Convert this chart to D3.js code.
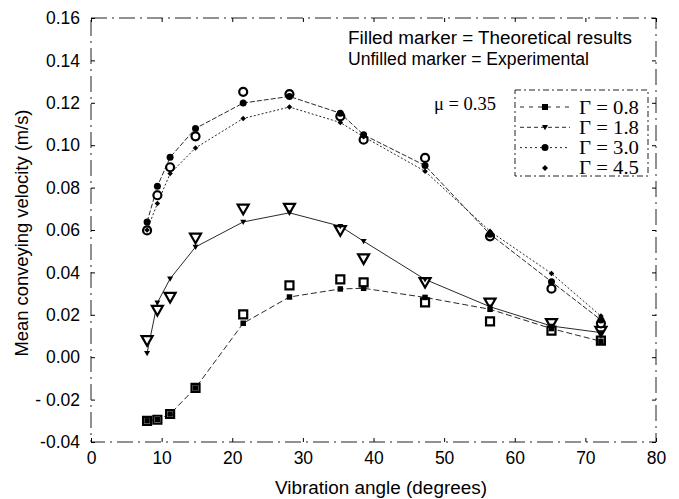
<!DOCTYPE html>
<html>
<head>
<meta charset="utf-8">
<script src="https://cdn.jsdelivr.net/npm/d3@7"></script>
<style>
  body { margin: 0; background: #fff; }
  svg { display: block; }
</style>
</head>
<body>
<div id="chart"></div>
<script>
// vibration angles (degrees) for each measurement
const angles = [7.94, 9.4, 11.2, 14.8, 21.55, 28.1, 35.3, 38.6, 47.3, 56.5, 65.2, 72.2];

// theoretical (filled) results
const theo08 = [-0.0300, -0.0295, -0.0268, -0.0145, 0.0160, 0.0284, 0.0322, 0.0325, 0.0282, 0.0226, 0.0135, 0.0075];
const theo18 = [0.0019, 0.0257, 0.0370, 0.0520, 0.0638, 0.0681, 0.0618, 0.0547, 0.0367, 0.0238, 0.0147, 0.0116];
const theo30 = [0.0638, 0.0806, 0.0943, 0.1079, 0.1199, 0.1230, 0.1151, 0.1049, 0.0904, 0.0580, 0.0356, 0.0176];
const theo45 = [0.0600, 0.0725, 0.0866, 0.0987, 0.1126, 0.1180, 0.1107, 0.1040, 0.0877, 0.0594, 0.0395, 0.0194];

// experimental (unfilled) results
const exp08 = [-0.0300, -0.0295, -0.0268, -0.0145, 0.0202, 0.0339, 0.0367, 0.0353, 0.0259, 0.0169, 0.0125, 0.0078];
const exp18 = [0.0080, 0.0223, 0.0284, 0.0563, 0.0700, 0.0704, 0.0599, 0.0466, 0.0354, 0.0257, 0.0160, 0.0124];
const exp30 = [0.0598, 0.0764, 0.0896, 0.1042, 0.1252, 0.1241, 0.1136, 0.1026, 0.0940, 0.0570, 0.0323, 0.0160];

const xTicks = [0, 10, 20, 30, 40, 50, 60, 70, 80];
const yTicks = [-0.04, -0.02, 0, 0.02, 0.04, 0.06, 0.08, 0.10, 0.12, 0.14, 0.16];
const yTickLabels = ["-0.04", "- 0.02", "0.00", "0.02", "0.04", "0.06", "0.08", "0.10", "0.12", "0.14", "0.16"];

const legendLabels = ["\u0393 = 0.8", "\u0393 = 1.8", "\u0393 = 3.0", "\u0393 = 4.5"];

const W = 679, H = 499;
const margin = { top: 18, right: 23, bottom: 57, left: 91 };

const svg = d3.select("#chart").append("svg").attr("width", W).attr("height", H);

const x = d3.scaleLinear().domain([0, 80]).range([margin.left, W - margin.right]);
const y = d3.scaleLinear().domain([-0.04, 0.16]).range([H - margin.bottom, margin.top]);

const sans = "Liberation Sans, Arial, sans-serif";
const serif = "Liberation Serif, Times New Roman, serif";

// plot frame (rough dash-dot like the scanned original)
svg.append("rect")
  .attr("x", x(0)).attr("y", y(0.16))
  .attr("width", x(80) - x(0)).attr("height", y(-0.04) - y(0.16))
  .attr("fill", "none").attr("stroke", "#222").attr("stroke-width", 1)
  .attr("stroke-dasharray", "16,5,2,5");

// axes with inward ticks
const xAxis = d3.axisBottom(x).tickValues(xTicks).tickSizeInner(-4).tickSizeOuter(0).tickPadding(10);
const gx = svg.append("g").attr("transform", `translate(0,${y(-0.04)})`).call(xAxis);
gx.select(".domain").remove();
gx.selectAll("text").style("font-family", sans).style("font-size", "17.5px").attr("fill", "#000");

const gxTop = svg.append("g").attr("transform", `translate(0,${y(0.16)})`)
  .call(d3.axisTop(x).tickValues(xTicks).tickSizeInner(-4).tickSizeOuter(0).tickFormat(""));
gxTop.select(".domain").remove();

const yAxis = d3.axisLeft(y).tickValues(yTicks).tickSizeInner(-4).tickSizeOuter(0).tickPadding(11)
  .tickFormat((d, i) => yTickLabels[i]);
const gy = svg.append("g").attr("transform", `translate(${x(0)},0)`).call(yAxis);
gy.select(".domain").remove();
gy.selectAll("text").style("font-family", sans).style("font-size", "17.5px").attr("fill", "#000");

const gyR = svg.append("g").attr("transform", `translate(${x(80)},0)`)
  .call(d3.axisRight(y).tickValues(yTicks).tickSizeInner(-4).tickSizeOuter(0).tickFormat(""));
gyR.select(".domain").remove();

// axis labels
svg.append("text")
  .attr("x", 381).attr("y", H - 5)
  .attr("text-anchor", "middle")
  .attr("textLength", 212).attr("lengthAdjust", "spacingAndGlyphs")
  .style("font-family", sans).style("font-size", "17.5px")
  .text("Vibration angle (degrees)");

svg.append("text")
  .attr("transform", `translate(28,${233}) rotate(-90)`)
  .attr("text-anchor", "middle")
  .attr("textLength", 247).attr("lengthAdjust", "spacingAndGlyphs")
  .style("font-family", sans).style("font-size", "17.5px")
  .text("Mean conveying velocity (m/s)");

// series definitions
const series = [
  { theo: theo08, exp: exp08, shape: "square", dash: "6,3", legendDash: "4,5" },
  { theo: theo18, exp: exp18, shape: "triangle", dash: null, legendDash: "4,3" },
  { theo: theo30, exp: exp30, shape: "circle", dash: "5,2", legendDash: "2,3" },
  { theo: theo45, exp: null, shape: "diamond", dash: "2,2", legendDash: "0,60" },
];

const line = d3.line().x((d) => x(d[0])).y((d) => y(d[1]));

function markerPath(shape, size) {
  const s = size / 2;
  if (shape === "square") return `M${-s},${-s}H${s}V${s}H${-s}Z`;
  if (shape === "triangle") return `M${-s},${-s * 0.75}H${s}L0,${s * 1.0}Z`;
  if (shape === "diamond") return `M0,${-s}L${s},0L0,${s}L${-s},0Z`;
  return d3.symbol(d3.symbolCircle, Math.PI * s * s)();
}

// theory lines
series.forEach((s) => {
  const pts = angles.map((a, i) => [a, s.theo[i]]);
  svg.append("path")
    .attr("d", line(pts))
    .attr("fill", "none").attr("stroke", "#111").attr("stroke-width", 0.9)
    .attr("stroke-dasharray", s.dash);
});

// experimental markers (unfilled)
series.forEach((s) => {
  if (!s.exp) return;
  const size = s.shape === "triangle" ? 11 : 8;
  svg.append("g").selectAll("path")
    .data(angles.map((a, i) => [a, s.exp[i]]))
    .join("path")
    .attr("transform", (d) => `translate(${x(d[0])},${y(d[1])})`)
    .attr("d", markerPath(s.shape, size))
    .attr("fill", "#fff").attr("stroke", "#000").attr("stroke-width", 2.2);
});

// theoretical markers (filled)
series.forEach((s) => {
  const size = s.shape === "triangle" ? 6 : s.shape === "circle" ? 7 : 5.5;
  svg.append("g").selectAll("path")
    .data(angles.map((a, i) => [a, s.theo[i]]))
    .join("path")
    .attr("transform", (d) => `translate(${x(d[0])},${y(d[1])})`)
    .attr("d", markerPath(s.shape, size))
    .attr("fill", "#000");
});

// annotation text
svg.append("text").attr("x", 348).attr("y", 44)
  .attr("textLength", 284).attr("lengthAdjust", "spacingAndGlyphs")
  .style("font-family", sans).style("font-size", "18px")
  .text("Filled marker = Theoretical results");
svg.append("text").attr("x", 348).attr("y", 65)
  .attr("textLength", 241).attr("lengthAdjust", "spacingAndGlyphs")
  .style("font-family", sans).style("font-size", "18px")
  .text("Unfilled marker = Experimental");

svg.append("text").attr("x", 434).attr("y", 110)
  .style("font-family", serif).style("font-size", "18.5px")
  .text("\u03bc = 0.35");

// legend
const lg = svg.append("g");
lg.append("rect").attr("x", 515).attr("y", 90).attr("width", 133).attr("height", 86)
  .attr("fill", "#fff").attr("stroke", "#222").attr("stroke-width", 1)
  .attr("stroke-dasharray", "6,3,2,3");
series.forEach((s, i) => {
  const cy = 107 + i * 20.3;
  lg.append("line").attr("x1", 520).attr("x2", 570).attr("y1", cy).attr("y2", cy)
    .attr("stroke", "#111").attr("stroke-width", 0.9).attr("stroke-dasharray", s.legendDash);
  lg.append("path").attr("transform", `translate(545,${cy})`)
    .attr("d", markerPath(s.shape, s.shape === "circle" ? 7 : 6)).attr("fill", "#000");
  lg.append("text").attr("x", 579).attr("y", cy + 6.5)
    .attr("textLength", 60).attr("lengthAdjust", "spacingAndGlyphs")
    .style("font-family", serif).style("font-size", "19px")
    .text(legendLabels[i]);
});
</script>
</body>
</html>
